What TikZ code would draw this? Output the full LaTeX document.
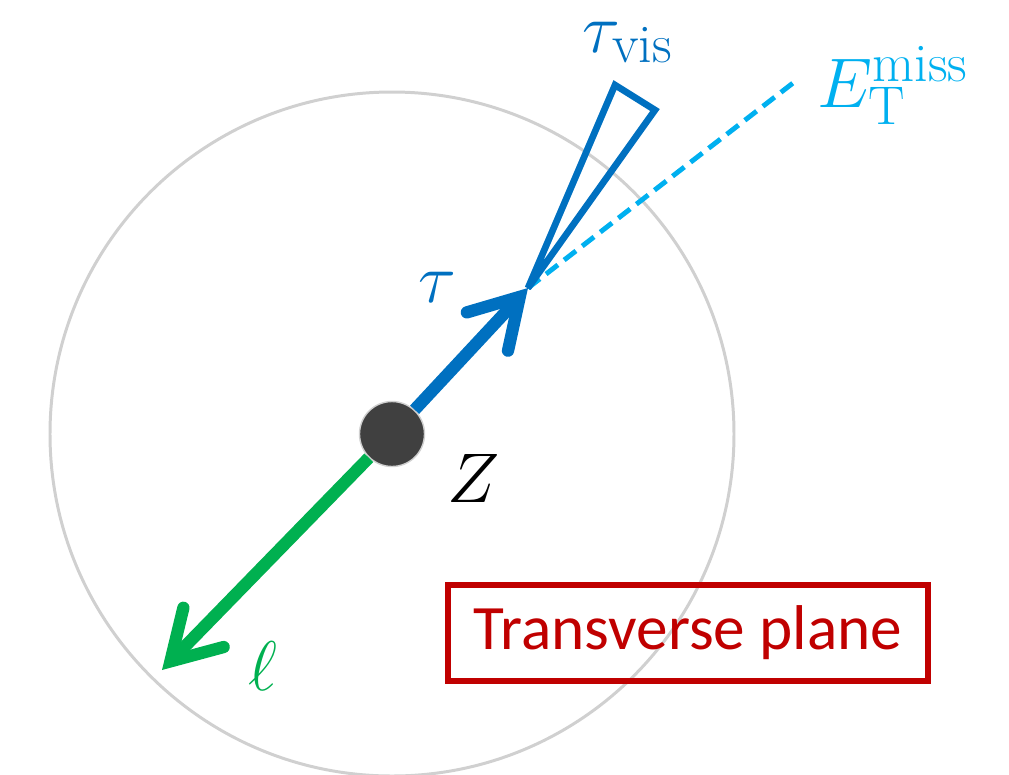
\RequirePackage{fix-cm}
\documentclass[tikz,border=0pt]{standalone}
\usepackage{fontspec}
\newfontfamily\planefont{Carlito}
\DeclareMathSizes{40}{40}{31}{24}
\usepackage{tikz}
\usetikzlibrary{arrows.meta}
\definecolor{taublue}{HTML}{0070C0}
\definecolor{metblue}{HTML}{00B0F0}
\definecolor{lepgreen}{HTML}{00B050}
\definecolor{planered}{HTML}{C00000}
\definecolor{vertexgray}{HTML}{404040}
\definecolor{ringgray}{HTML}{D0D0D0}

\begin{document}
\begin{tikzpicture}[x=0.02cm, y=-0.02cm,
    particle/.style={line width=7pt, color=#1, -{Straight Barb[length=27pt, width=32pt, line cap=round]}},
    lbl/.style={font=\fontsize{40}{48}\selectfont, color=#1, inner sep=0pt, anchor=base west},
    vtx/.style={circle, fill=vertexgray, draw=ringgray, line width=0.8pt, minimum size=1.3cm, inner sep=0pt},
    planebox/.style={rectangle, draw=planered, line width=3.4pt, minimum width=9.62cm, minimum height=1.92cm, font=\planefont\fontsize{36}{42}\selectfont, text=planered}
]
    \useasboundingbox (0,0) rectangle (1009,775);

    % Vertex and transverse plane
    \node[vtx] (Z) at (392,434) {};
    \draw[ringgray, line width=1.7pt] (Z.center) circle[radius=342];

    % Tips
    \coordinate (tautip) at (528,288);
    \coordinate (leptip) at (162,670);
    \coordinate (metend) at (793,83);
    \coordinate (cone1) at (615,85);
    \coordinate (cone2) at (655,110);

    % Missing energy and visible cone
    \draw[metblue, line width=2.8pt, dash pattern=on 8.5pt off 4.5pt] (tautip) -- (metend);
    \draw[taublue, line width=3.8pt, miter limit=4] (tautip) -- (cone1) -- (cone2) -- cycle;

    % Tau and lepton
    \draw[particle=taublue] (Z) -- (tautip);
    \draw[particle=lepgreen] (Z) -- (leptip);

    % Labels
    \node[lbl=taublue] (tauvis) at (582,52) {$\tau_{\mathrm{vis}}$};
    \node[lbl=metblue] (met) at (817,107) {$E_{\mathrm{T}}^{\mathrm{miss}}$};
    \node[lbl=taublue] (taulbl) at (418,302) {$\tau$};
    \node[lbl=black] (zlbl) at (447,502) {$Z$};
    \node[lbl=lepgreen] (leplbl) at (248,690) {$\ell$};

    \node[planebox] (plane) at (688,633) {Transverse plane};
\end{tikzpicture}
\end{document}
